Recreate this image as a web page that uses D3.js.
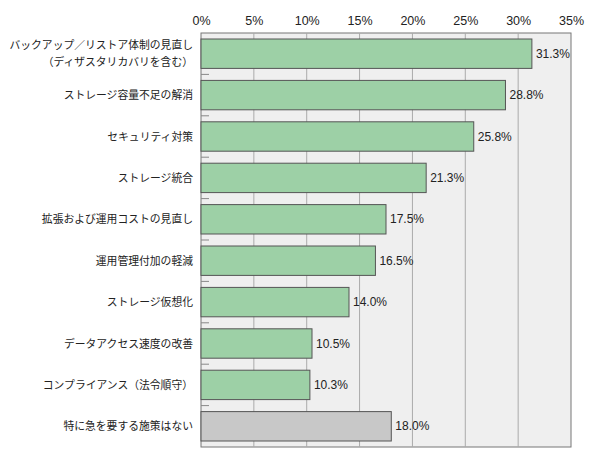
<!DOCTYPE html>
<html><head><meta charset="utf-8">
<script src="https://cdn.jsdelivr.net/npm/d3@7"></script>
<style>body{margin:0;background:#fff}text{font-family:"Liberation Sans","Noto Sans CJK JP",sans-serif}</style>
</head><body><svg id="c" width="590" height="460"></svg>
<script>
const categories=[["バックアップ／リストア体制の見直し","（ディザスタリカバリを含む）"],["ストレージ容量不足の解消"],["セキュリティ対策"],["ストレージ統合"],["拡張および運用コストの見直し"],["運用管理付加の軽減"],["ストレージ仮想化"],["データアクセス速度の改善"],["コンプライアンス（法令順守）"],["特に急を要する施策はない"]];
const values=[31.3,28.8,25.8,21.3,17.5,16.5,14.0,10.5,10.3,18.0];
const tickValues=[0,5,10,15,20,25,30,35];
const svg=d3.select("#c");
const L=201,R=571,T=33,B=447;
const x=d3.scaleLinear().domain([0,35]).range([L,R]);
const y=d3.scaleBand().domain(d3.range(values.length)).range([T,B]).paddingInner(0.29).paddingOuter(0.145);
svg.append("rect").attr("x",L).attr("y",T).attr("width",R-L).attr("height",B-T).attr("fill","#efefef").attr("stroke","#777");
svg.selectAll(".g").data(tickValues.slice(1,-1)).join("line").attr("x1",d=>x(d)).attr("x2",d=>x(d)).attr("y1",T).attr("y2",B).attr("stroke","#aaa");
const ax=svg.append("g").attr("transform",`translate(0,${T})`).call(d3.axisTop(x).tickValues(tickValues).tickFormat(d=>d+"%").tickSize(0).tickPadding(8));
ax.select(".domain").remove();
ax.selectAll("text").attr("font-size",12.5).attr("font-family","Liberation Sans").attr("fill","#222");
const step=(B-T)/values.length;
svg.selectAll(".tk").data(d3.range(1,values.length)).join("line").attr("x1",L).attr("x2",L+8).attr("y1",d=>T+d*step).attr("y2",d=>T+d*step).attr("stroke","#888");
svg.selectAll(".bar").data(values).join("rect").attr("x",L).attr("y",(d,i)=>y(i)).attr("width",d=>x(d)-L).attr("height",y.bandwidth())
 .attr("fill",(d,i)=>i===values.length-1?"#c8c8c8":"#9dd0a6").attr("stroke","#555");
svg.selectAll(".vl").data(values).join("text").attr("x",d=>x(d)+4).attr("y",(d,i)=>y(i)+y.bandwidth()/2+4).attr("font-size",12).attr("fill","#222").text(d=>d.toFixed(1)+"%");
categories.forEach((c,i)=>{
 const cy=y(i)+y.bandwidth()/2;
 c.forEach((s,j)=>svg.append("text").attr("x",193).attr("y",cy+4+(j-(c.length-1)/2)*17).attr("text-anchor","end").attr("font-size",10.8).attr("fill","#222").text(s));
});
</script></body></html>
